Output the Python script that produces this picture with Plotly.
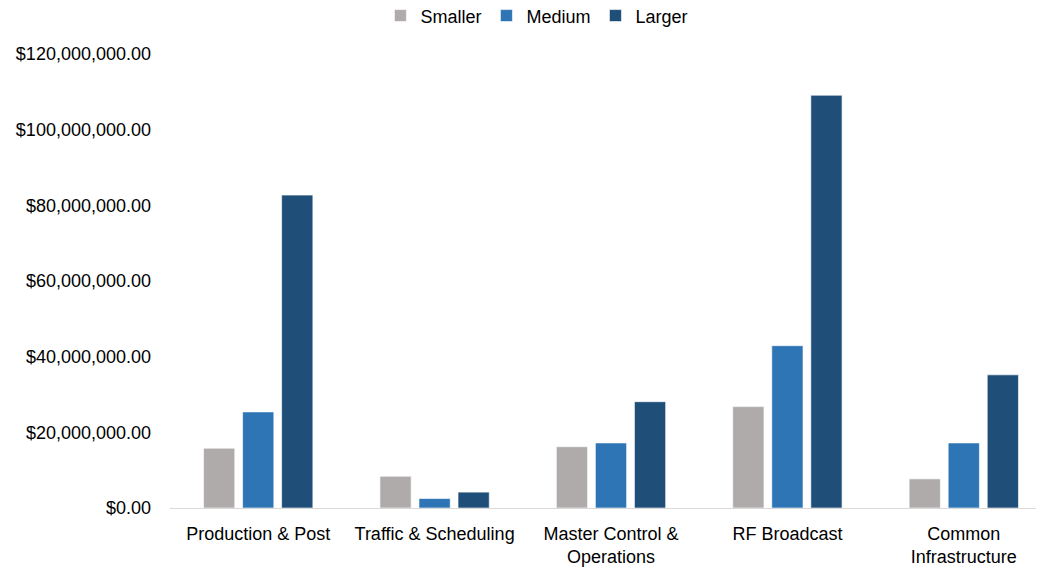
import plotly.graph_objects as go

categories = ["Production & Post", "Traffic & Scheduling", "Master Control &<br>Operations",
              "RF Broadcast", "Common<br>Infrastructure"]
smaller = [15.8e6, 8.4e6, 16.2e6, 26.8e6, 7.7e6]
medium = [25.4e6, 2.5e6, 17.2e6, 42.9e6, 17.2e6]
larger = [82.7e6, 4.2e6, 28.1e6, 109.1e6, 35.2e6]
series_names = ["Smaller", "Medium", "Larger"]
colors = ["#AFABAB", "#2E75B6", "#1F4E79"]

FONT = "Liberation Sans, Arial, sans-serif"

fig = go.Figure()
for name, vals, c in zip(series_names, [smaller, medium, larger], colors):
    fig.add_trace(go.Bar(
        name=name, x=categories, y=vals,
        marker=dict(color=c, line=dict(color="rgba(255,255,255,0.6)", width=1)),
    ))

fig.update_layout(
    width=1044, height=569,
    barmode="group", bargap=0.336, bargroupgap=0.2,
    plot_bgcolor="white", paper_bgcolor="white",
    margin=dict(l=162, r=0, t=46, b=69, autoexpand=False),
    font=dict(family=FONT, size=18, color="#000000"),
    legend=dict(orientation="h", x=0.416, xanchor="center", y=1.084, yanchor="middle",
                font=dict(family=FONT, size=18), itemwidth=30, traceorder="normal"),
    xaxis=dict(range=[-0.5, 4.5], showgrid=False, showline=True, linecolor="#D9D9D9",
               linewidth=1, ticks="", automargin=False, ticklabelstandoff=9,
               tickfont=dict(family=FONT, size=18)),
    yaxis=dict(range=[0, 120e6], dtick=20e6, tickprefix="$", tickformat=",.2f",
               showgrid=False, zeroline=False, showline=False, ticks="", automargin=False,
               ticklabelstandoff=18, tickfont=dict(family=FONT, size=18)),
)

fig.write_html("out.html")
